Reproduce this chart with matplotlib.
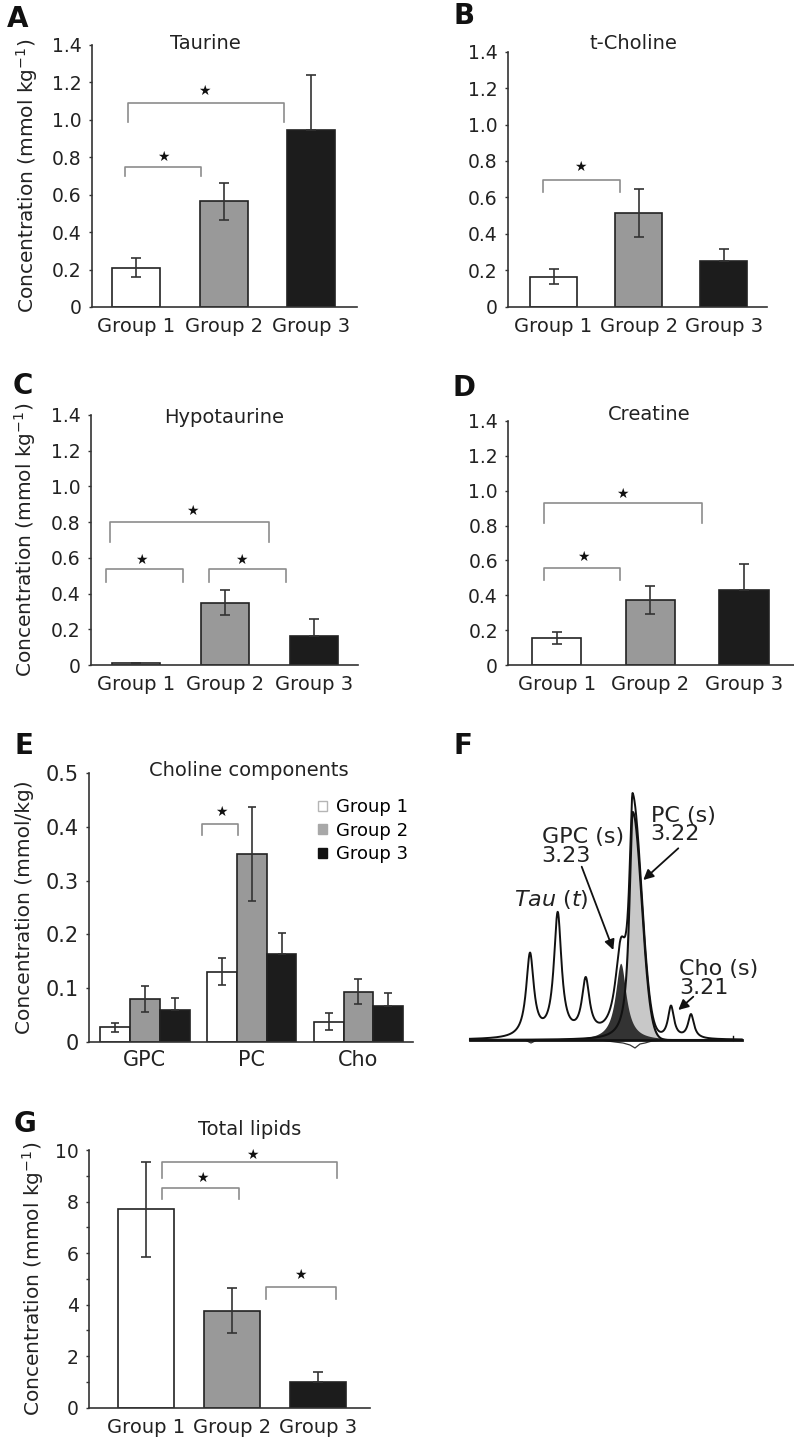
import numpy as np
import matplotlib.pyplot as plt
from matplotlib.patches import Patch

plt.rcParams['font.family'] = ['DejaVu Sans']
plt.rcParams['mathtext.fontset'] = 'dejavusans'

W, H = 794, 1439

groups = ['Group 1', 'Group 2', 'Group 3']
bar_colors = ['white', '#999999', '#1c1c1c']

# mean and error per group (group 3 error is only drawn upward, like the figure)
taurine_mean = [0.21, 0.565, 0.945]
taurine_err = [0.052, 0.098, 0.295]
tcholine_mean = [0.165, 0.515, 0.25]
tcholine_err = [0.04, 0.13, 0.065]
hypotaurine_mean = [0.01, 0.35, 0.165]
hypotaurine_err = [0.0, 0.07, 0.095]
creatine_mean = [0.157, 0.373, 0.43]
creatine_err = [0.034, 0.078, 0.148]
lipids_mean = [7.70, 3.76, 1.01]
lipids_err = [1.85, 0.87, 0.36]

# choline components (E)
components = ['GPC', 'PC', 'Cho']
chol_g1 = [0.028, 0.131, 0.038]
chol_g1_err = [0.008, 0.025, 0.016]
chol_g2 = [0.080, 0.349, 0.094]
chol_g2_err = [0.024, 0.087, 0.023]
chol_g3 = [0.060, 0.164, 0.067]
chol_g3_err = [0.022, 0.038, 0.025]

# significance brackets: x0, x1, bracket y, leg end y, star x, star y
brackets_A = [(-0.125, 0.74, 0.75, 0.70, 0.31, 0.80), (-0.09, 1.69, 1.09, 0.99, 0.78, 1.156)]
brackets_B = [(-0.12, 0.78, 0.696, 0.63, 0.31, 0.77)]
brackets_C = [(-0.29, 1.50, 0.80, 0.69, 0.64, 0.86), (-0.34, 0.53, 0.536, 0.466, 0.06, 0.59),
              (0.82, 1.69, 0.536, 0.466, 1.19, 0.59)]
brackets_D = [(-0.135, 1.55, 0.928, 0.813, 0.70, 0.98), (-0.135, 0.68, 0.555, 0.49, 0.28, 0.62)]
brackets_E = [(0.54, 0.875, 0.405, 0.384, 0.72, 0.428)]
brackets_G = [(0.185, 2.22, 9.52, 8.9, 1.23, 9.8), (0.185, 1.08, 8.54, 8.09, 0.65, 8.9),
              (1.39, 2.2, 4.70, 4.21, 1.79, 5.15)]

# spectrum (F): peak centre, height, width (arbitrary shift units)
tau_centers = [90, 117.7, 145.7]
tau_heights = [83, 123, 55]
tau_width = 4.6
gpc_center, gpc_height, gpc_width = 180.7, 76.7, 6.5
pc_center, pc_height, pc_left_width, pc_right_sigma = 192.7, 228, 4.0, 9.0
cho_centers = [231, 251]
cho_heights = [32, 24]
cho_width = 3.6
residual_x = [30, 85, 91, 97, 160, 175, 183, 190, 195, 200, 205, 212, 225, 301.7]
residual_y = [0, 0, -3, 0, 0, -2, -3, -5, -8, -4, -3, -1, 0, 0]


def px_rect(left, top, right, bottom):
    return [left / W, 1 - bottom / H, (right - left) / W, (bottom - top) / H]


def style(ax, yticks, yticklabels, ysize=13.5, xsize=14, xpad=7.5):
    for s in ['top', 'right']:
        ax.spines[s].set_visible(False)
    for s in ['left', 'bottom']:
        ax.spines[s].set_color('#333333')
        ax.spines[s].set_linewidth(1.2)
    ax.set_yticks(yticks)
    ax.set_yticklabels(yticklabels)
    ax.tick_params(axis='y', length=2.5, width=1, color='#333333', labelsize=ysize, pad=5,
                   labelcolor='#222222')
    ax.tick_params(axis='x', length=0, labelsize=xsize, pad=xpad, labelcolor='#222222')


def draw_brackets(ax, brackets):
    for x0, x1, y, yl, sx, sy in brackets:
        ax.plot([x0, x0, x1, x1], [yl, y, y, yl], color='#8c8c8c', lw=1.2, zorder=5)
        ax.text(sx, sy, '★', fontsize=10, ha='center', va='center', color='#111111')


def group_panel(rect, means, errs, width, xlim, ylim, yticks, yticklabels, title, title_pos,
                brackets, ylabel_x=None, ylabel='Concentration (mmol kg$^{-1}$)', minor=None):
    ax = fig.add_axes(px_rect(*rect))
    x = np.arange(len(groups))
    ax.bar(x, means, width, color=bar_colors, edgecolor='#222222', linewidth=1.2, zorder=2)
    lower = [errs[0], errs[1], 0]
    ax.errorbar(x, means, yerr=[lower, errs], fmt='none', ecolor='#333333', elinewidth=1.2,
                capsize=3.5, capthick=1.2, zorder=3)
    ax.set_xlim(*xlim)
    ax.set_ylim(*ylim)
    ax.set_xticks(x)
    ax.set_xticklabels(groups)
    style(ax, yticks, yticklabels)
    if minor is not None:
        ax.set_yticks(minor, minor=True)
        ax.tick_params(axis='y', which='minor', length=2.5, width=1, color='#333333')
    ax.text(title_pos[0], title_pos[1], title, transform=ax.transAxes, ha='center',
            va='center', fontsize=14, color='#222222')
    draw_brackets(ax, brackets)
    if ylabel_x is not None:
        ax.set_ylabel(ylabel, fontsize=14.5, va='center', color='#222222')
        bbox = ax.get_position()
        ax.yaxis.set_label_coords((ylabel_x / W - bbox.x0) / bbox.width, 0.5)
    return ax


fig = plt.figure(figsize=(W / 100, H / 100), dpi=100)

ticks14 = [0, 0.2, 0.4, 0.6, 0.8, 1.0, 1.2, 1.4]
labels14 = ['0', '0.2', '0.4', '0.6', '0.8', '1.0', '1.2', '1.4']

group_panel((92, 45, 357, 307), taurine_mean, taurine_err, 0.545, (-0.5, 2.52), (0, 1.4),
            ticks14, labels14, 'Taurine', (0.426, 1.006), brackets_A, ylabel_x=27)
group_panel((508, 51.7, 767, 306.7), tcholine_mean, tcholine_err, 0.55, (-0.535, 2.51), (0, 1.4),
            ticks14, labels14, 't-Choline', (0.484, 1.033), brackets_B)
group_panel((90.7, 415, 358, 665), hypotaurine_mean, hypotaurine_err, 0.54, (-0.51, 2.5), (0, 1.4),
            ticks14, labels14, 'Hypotaurine', (0.499, 0.99), brackets_C, ylabel_x=25)
group_panel((508.3, 421, 794, 665), creatine_mean, creatine_err, 0.53, (-0.515, 2.53), (0, 1.4),
            ticks14, labels14, 'Creatine', (0.493, 1.025), brackets_D)
group_panel((89.3, 1150, 370, 1407.7), lipids_mean, lipids_err, 0.645, (-0.657, 2.6), (0, 10),
            [0, 2, 4, 6, 8, 10], ['0', '2', '4', '6', '8', '10'], 'Total lipids', (0.571, 1.078),
            brackets_G, ylabel_x=33, minor=[1, 3, 5, 7, 9])

# E: choline components
axE = fig.add_axes(px_rect(89.3, 772.7, 413, 1042.3))
xc = np.arange(len(components))
bw = 0.28
series = [(chol_g1, chol_g1_err), (chol_g2, chol_g2_err), (chol_g3, chol_g3_err)]
for i, (vals, errs) in enumerate(series):
    pos = xc + (i - 1) * bw
    axE.bar(pos, vals, bw, color=bar_colors[i], edgecolor='#222222', linewidth=1.2, zorder=2)
    lower = errs if i < 2 else [0] * len(errs)
    axE.errorbar(pos, vals, yerr=[lower, errs], fmt='none', ecolor='#333333', elinewidth=1.2,
                 capsize=3, capthick=1.2, zorder=3)
axE.set_xlim(-0.518, 2.51)
axE.set_ylim(0, 0.5)
axE.set_xticks(xc)
axE.set_xticklabels(components)
style(axE, [0, 0.1, 0.2, 0.3, 0.4, 0.5], ['0', '0.1', '0.2', '0.3', '0.4', '0.5'],
      ysize=15, xsize=15, xpad=5.5)
axE.text(0.493, 1.01, 'Choline components', transform=axE.transAxes, ha='center', va='center',
         fontsize=14, color='#222222')
draw_brackets(axE, brackets_E)
axE.set_ylabel('Concentration (mmol/kg)', fontsize=14.5, va='center', color='#222222')
bb = axE.get_position()
axE.yaxis.set_label_coords((25 / W - bb.x0) / bb.width, 0.5)
handles = [Patch(facecolor='white', edgecolor='#b5b5b5'),
           Patch(facecolor='#a8a8a8', edgecolor='#a8a8a8'),
           Patch(facecolor='#111111', edgecolor='#111111')]
axE.legend(handles, groups, loc='upper left', bbox_to_anchor=(0.706, 0.905), frameon=False,
           fontsize=13, handlelength=0.5, handleheight=0.5, handletextpad=0.5,
           labelspacing=0.3, borderpad=0, borderaxespad=0)

# F: spectrum with fitted components
axF = fig.add_axes(px_rect(440, 740, 794, 1060))
axF.set_xlim(0, 354)
axF.set_ylim(-20, 300)
axF.axis('off')
shift = np.linspace(30, 301.7, 2000)


def lorentz(x, c, h, w):
    return h / (1 + ((x - c) / w) ** 2)


tau = sum(lorentz(shift, c, h, tau_width) for c, h in zip(tau_centers, tau_heights))
gpc = lorentz(shift, gpc_center, gpc_height, gpc_width)
pc = np.where(shift < pc_center,
              lorentz(shift, pc_center, pc_height, pc_left_width),
              pc_height * np.exp(-0.5 * ((shift - pc_center) / pc_right_sigma) ** 2))
cho = sum(lorentz(shift, c, h, cho_width) for c, h in zip(cho_centers, cho_heights))
envelope = tau + gpc + pc + cho

axF.fill_between(shift, 0, pc, color='#c8c8c8', lw=0, zorder=1)
axF.fill_between(shift, 0, gpc, color='#333333', lw=0, zorder=2)
axF.plot(shift, pc, color='#111111', lw=1.5, zorder=3)
axF.plot(shift, envelope, color='#111111', lw=1.4, zorder=4)
axF.plot(residual_x, residual_y, color='#333333', lw=0.9, zorder=4)
axF.plot([30, 301.7], [0, 0], color='#111111', lw=2.0, zorder=5)
axF.plot([292.7, 292.7], [0, 4], color='#111111', lw=1.0, zorder=5)

ftxt = dict(fontsize=16, color='#222222', va='baseline', ha='left')
axF.text(210.7, 218.3, 'PC (s)', **ftxt)
axF.text(210.7, 200, '3.22', **ftxt)
axF.text(101.7, 196.7, 'GPC (s)', **ftxt)
axF.text(101.7, 178.3, '3.23', **ftxt)
axF.text(74, 134, r'$\it{Tau}$ ($\it{t}$)', **ftxt)
axF.text(239, 65, 'Cho (s)', **ftxt)
axF.text(239, 46, '3.21', **ftxt)
arrow = dict(arrowstyle='-|>', color='#111111', lw=1.3, mutation_scale=15, shrinkA=0, shrinkB=0)
axF.annotate('', xy=(203.3, 160), xytext=(238.3, 191.7), arrowprops=arrow)
axF.annotate('', xy=(173.3, 90), xytext=(141.7, 173.3), arrowprops=arrow)
axF.annotate('', xy=(238.3, 30), xytext=(253.3, 43.3), arrowprops=arrow)

# panel letters
for letter, (lx, ly) in zip('ABCDEFG', [(17.5, 19), (464, 15.5), (22.5, 386), (464, 388),
                                        (24, 746), (462.5, 746), (25, 1124)]):
    fig.text(lx / W, 1 - ly / H, letter, fontsize=20, fontweight='bold', ha='center',
             va='center', color='#111111')

fig.savefig('out.png', dpi=100)
